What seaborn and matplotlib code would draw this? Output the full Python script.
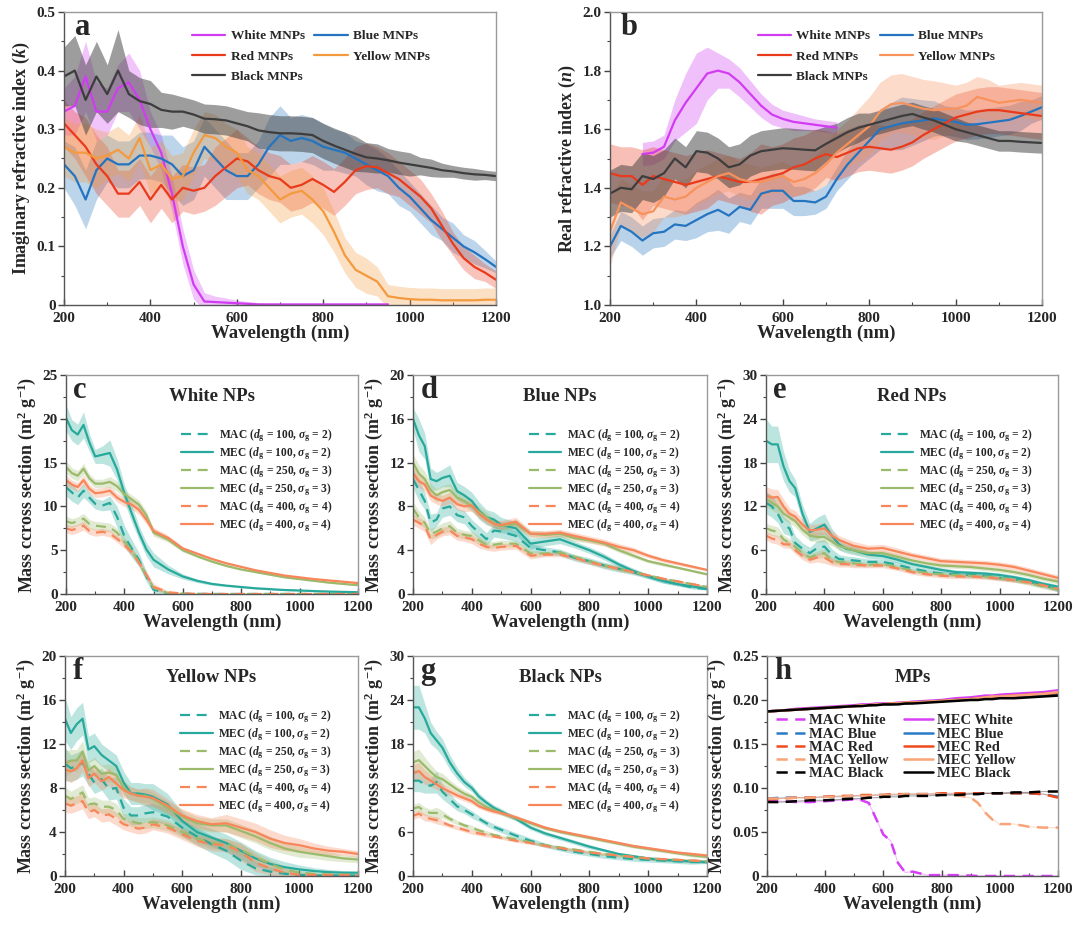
import numpy as np
import pandas as pd
import matplotlib
matplotlib.use("Agg")
import matplotlib.pyplot as plt
import seaborn as sns
from matplotlib.ticker import MultipleLocator, FuncFormatter

nan = np.nan

# ---------------- wavelength grids ----------------
WL_AB = list(range(200, 1201, 25))
WL_NP = [200, 220, 240, 260, 280, 300, 325, 350, 375, 400, 425, 450, 475, 500,
         550, 600, 650, 700, 750, 800, 850, 900, 950, 1000, 1050, 1100, 1150, 1200]
WL_H = [200, 250, 300, 350, 400, 450, 500, 525, 550, 575, 600, 625, 650, 675, 700,
        750, 800, 850, 900, 925, 950, 975, 1000, 1050, 1100, 1150, 1200]

# ---------------- panel a : imaginary index k ----------------
A_WHITE = [0.33, 0.34, 0.39, 0.33, 0.33, 0.37, 0.38, 0.35, 0.30, 0.26, 0.19, 0.10, 0.035, 0.006, 0.005,
           0.004, 0.003, 0.002, 0.001, 0.001, 0.001, 0.001, 0.001, 0.001, 0.001, 0.001, 0.001, 0.001,
           0.001, 0.001, 0.001, nan, nan, nan, nan, nan, nan, nan, nan, nan, nan]
A_WHITE_E = [0.04, 0.05, 0.06, 0.05, 0.04, 0.04, 0.05, 0.05, 0.03, 0.03, 0.03, 0.03, 0.025, 0.015, 0.01,
             0.008, 0.005, 0.004, 0.003, 0.002, 0.002, 0.001, 0.001, 0.001, 0.001, 0.001, 0.001, 0.001,
             0.001, 0.001, 0.001, nan, nan, nan, nan, nan, nan, nan, nan, nan, nan]
A_BLUE = [0.24, 0.22, 0.18, 0.23, 0.25, 0.24, 0.24, 0.255, 0.255, 0.25, 0.24, 0.22, 0.23, 0.27, 0.25,
          0.23, 0.22, 0.22, 0.24, 0.27, 0.29, 0.28, 0.285, 0.28, 0.27, 0.265, 0.26, 0.25, 0.24, 0.23,
          0.22, 0.20, 0.185, 0.165, 0.145, 0.13, 0.115, 0.10, 0.09, 0.078, 0.065]
A_BLUE_E = [0.04, 0.05, 0.05, 0.05, 0.04, 0.04, 0.04, 0.04, 0.04, 0.04, 0.05, 0.05, 0.05, 0.05, 0.05,
            0.05, 0.04, 0.04, 0.04, 0.05, 0.05, 0.04, 0.04, 0.04, 0.04, 0.035, 0.035, 0.03, 0.035, 0.035,
            0.03, 0.03, 0.025, 0.025, 0.025, 0.02, 0.025, 0.02, 0.02, 0.015, 0.01]
A_RED = [0.31, 0.29, 0.27, 0.24, 0.22, 0.19, 0.19, 0.21, 0.18, 0.205, 0.18, 0.20, 0.195, 0.20, 0.22,
         0.235, 0.25, 0.245, 0.23, 0.22, 0.215, 0.20, 0.205, 0.215, 0.205, 0.193, 0.21, 0.23, 0.237,
         0.235, 0.225, 0.215, 0.20, 0.185, 0.165, 0.135, 0.105, 0.08, 0.065, 0.055, 0.043]
A_RED_E = [0.04, 0.04, 0.05, 0.05, 0.05, 0.04, 0.04, 0.04, 0.04, 0.04, 0.04, 0.04, 0.04, 0.04, 0.05,
           0.05, 0.05, 0.04, 0.04, 0.04, 0.04, 0.04, 0.04, 0.04, 0.04, 0.04, 0.04, 0.04, 0.04, 0.035,
           0.035, 0.03, 0.03, 0.03, 0.025, 0.025, 0.02, 0.02, 0.02, 0.015, 0.015]
A_YELLOW = [0.27, 0.26, 0.26, 0.25, 0.255, 0.265, 0.25, 0.285, 0.23, 0.24, 0.215, 0.22, 0.26, 0.29,
            0.285, 0.27, 0.26, 0.23, 0.22, 0.20, 0.18, 0.19, 0.195, 0.18, 0.16, 0.125, 0.085, 0.06,
            0.05, 0.04, 0.015, 0.012, 0.01, 0.009, 0.009, 0.008, 0.008, 0.008, 0.008, 0.009, 0.009]
A_YELLOW_E = [0.05, 0.05, 0.05, 0.05, 0.04, 0.04, 0.04, 0.04, 0.04, 0.04, 0.04, 0.04, 0.04, 0.04, 0.04,
              0.04, 0.04, 0.04, 0.04, 0.04, 0.04, 0.04, 0.04, 0.04, 0.04, 0.035, 0.03, 0.03, 0.03, 0.025,
              0.02, 0.02, 0.02, 0.02, 0.02, 0.02, 0.02, 0.02, 0.02, 0.02, 0.02]
A_BLACK = [0.39, 0.40, 0.35, 0.39, 0.36, 0.40, 0.36, 0.348, 0.343, 0.333, 0.33, 0.33, 0.325, 0.318,
           0.317, 0.315, 0.31, 0.305, 0.298, 0.295, 0.293, 0.293, 0.292, 0.29, 0.28, 0.272, 0.265,
           0.258, 0.252, 0.25, 0.247, 0.243, 0.24, 0.237, 0.234, 0.23, 0.228, 0.225, 0.223, 0.222, 0.22]
A_BLACK_E = [0.05, 0.06, 0.06, 0.06, 0.05, 0.07, 0.04, 0.04, 0.04, 0.03, 0.03, 0.025, 0.025, 0.025,
             0.025, 0.025, 0.025, 0.025, 0.03, 0.03, 0.03, 0.03, 0.03, 0.03, 0.03, 0.03, 0.03, 0.03,
             0.025, 0.025, 0.02, 0.02, 0.02, 0.015, 0.015, 0.012, 0.01, 0.01, 0.01, 0.008, 0.008]

# ---------------- panel b : real index n ----------------
B_WHITE = [nan, nan, nan, 1.515, 1.52, 1.54, 1.63, 1.69, 1.74, 1.79, 1.80, 1.79, 1.76, 1.72, 1.68,
           1.65, 1.635, 1.625, 1.62, 1.615, 1.61, 1.605, nan, nan, nan, nan, nan, nan, nan, nan, nan,
           nan, nan, nan, nan, nan, nan, nan, nan, nan, nan]
B_WHITE_E = [nan, nan, nan, 0.04, 0.04, 0.04, 0.07, 0.10, 0.12, 0.09, 0.06, 0.05, 0.05, 0.045, 0.04,
             0.035, 0.03, 0.03, 0.025, 0.02, 0.02, 0.02, nan, nan, nan, nan, nan, nan, nan, nan, nan,
             nan, nan, nan, nan, nan, nan, nan, nan, nan, nan]
B_BLUE = [1.20, 1.27, 1.25, 1.22, 1.245, 1.25, 1.275, 1.27, 1.29, 1.31, 1.325, 1.305, 1.335, 1.325,
          1.38, 1.39, 1.39, 1.355, 1.355, 1.35, 1.37, 1.43, 1.48, 1.52, 1.56, 1.60, 1.61, 1.62, 1.625,
          1.63, 1.637, 1.63, 1.625, 1.615, 1.617, 1.622, 1.627, 1.632, 1.645, 1.66, 1.675]
B_BLUE_E = [0.04, 0.05, 0.05, 0.05, 0.05, 0.05, 0.05, 0.05, 0.06, 0.06, 0.07, 0.06, 0.05, 0.05, 0.05,
            0.06, 0.06, 0.05, 0.05, 0.04, 0.04, 0.04, 0.05, 0.05, 0.06, 0.07, 0.08, 0.09, 0.08, 0.07,
            0.06, 0.05, 0.05, 0.05, 0.05, 0.05, 0.05, 0.05, 0.05, 0.04, 0.04]
B_RED = [1.45, 1.44, 1.44, 1.41, 1.44, 1.43, 1.42, 1.41, 1.42, 1.43, 1.44, 1.43, 1.42, 1.42, 1.43,
         1.44, 1.45, 1.47, 1.48, 1.50, 1.515, 1.505, 1.52, 1.535, 1.54, 1.535, 1.53, 1.54, 1.555, 1.58,
         1.60, 1.62, 1.64, 1.65, 1.66, 1.665, 1.665, 1.66, 1.655, 1.65, 1.645]
B_RED_E = [0.10, 0.10, 0.10, 0.12, 0.10, 0.10, 0.10, 0.10, 0.10, 0.10, 0.08, 0.08, 0.08, 0.10, 0.12,
           0.10, 0.10, 0.10, 0.10, 0.10, 0.08, 0.08, 0.08, 0.08, 0.08, 0.08, 0.08, 0.08, 0.08, 0.08,
           0.08, 0.08, 0.08, 0.08, 0.08, 0.08, 0.08, 0.08, 0.08, 0.08, 0.08]
B_YELLOW = [1.25, 1.35, 1.33, 1.31, 1.32, 1.37, 1.36, 1.37, 1.40, 1.42, 1.44, 1.45, 1.43, 1.42, 1.42,
            1.43, 1.44, 1.42, 1.43, 1.45, 1.48, 1.52, 1.55, 1.58, 1.61, 1.66, 1.685, 1.69, 1.68, 1.67,
            1.665, 1.668, 1.67, 1.68, 1.71, 1.70, 1.69, 1.695, 1.70, 1.695, 1.69]
B_YELLOW_E = [0.12, 0.08, 0.08, 0.08, 0.07, 0.07, 0.06, 0.06, 0.06, 0.06, 0.06, 0.06, 0.06, 0.06, 0.05,
              0.05, 0.05, 0.05, 0.05, 0.06, 0.07, 0.08, 0.08, 0.09, 0.10, 0.10, 0.10, 0.10, 0.10, 0.10,
              0.10, 0.09, 0.08, 0.08, 0.07, 0.07, 0.06, 0.06, 0.06, 0.06, 0.06]
B_BLACK = [1.38, 1.40, 1.395, 1.44, 1.43, 1.45, 1.50, 1.47, 1.525, 1.52, 1.50, 1.47, 1.48, 1.51, 1.525,
           1.53, 1.535, 1.533, 1.53, 1.528, 1.55, 1.57, 1.59, 1.605, 1.615, 1.625, 1.635, 1.645, 1.652,
           1.64, 1.63, 1.615, 1.60, 1.59, 1.58, 1.57, 1.56, 1.56, 1.557, 1.555, 1.553]
B_BLACK_E = [0.08, 0.08, 0.08, 0.08, 0.08, 0.08, 0.07, 0.07, 0.07, 0.07, 0.07, 0.07, 0.07, 0.07, 0.07,
             0.07, 0.07, 0.07, 0.07, 0.07, 0.06, 0.05, 0.05, 0.05, 0.04, 0.04, 0.04, 0.04, 0.04, 0.04,
             0.04, 0.04, 0.04, 0.035, 0.035, 0.035, 0.035, 0.035, 0.035, 0.035, 0.035]

# ---------------- panel c : White NPs ----------------
C_MAC100 = [12.2, 11.6, 11.0, 11.8, 11.0, 10.3, 10.1, 10.4, 8.8, 6.6, 5.2, 3.9, 2.0, 0.5, 0.05, 0.02, 0.01, 0, 0, 0, 0, 0, 0, 0, 0, 0, 0, 0]
C_MAC100_E = [1.0, 1.0, 0.8, 0.8, 0.6, 0.6, 0.6, 0.8, 1.2, 1.2, 1.0, 0.8, 0.6, 0.4, 0.1, 0.05, 0.02, 0, 0, 0, 0, 0, 0, 0, 0, 0, 0, 0]
C_MEC100 = [20.1, 18.7, 18.2, 19.3, 17.3, 15.7, 15.9, 16.1, 14.2, 11.5, 9.2, 7.0, 5.1, 3.9, 2.8, 2.0, 1.5, 1.15, 0.95, 0.8, 0.65, 0.55, 0.45, 0.4, 0.33, 0.28, 0.24, 0.2]
C_MEC100_E = [1.5, 1.2, 1.2, 1.5, 1.0, 0.8, 1.0, 1.5, 1.2, 1.0, 1.0, 0.8, 0.8, 0.8, 0.5, 0.3, 0.2, 0.15, 0.1, 0.1, 0.08, 0.08, 0.06, 0.05, 0.05, 0.05, 0.05, 0.05]
C_MAC250 = [8.3, 8.1, 8.3, 8.6, 8.0, 7.8, 7.7, 7.6, 7.0, 6.0, 5.0, 3.6, 2.1, 0.7, 0.1, 0.03, 0.01, 0, 0, 0, 0, 0, 0, 0, 0, 0, 0, 0]
C_MAC250_E = [0.6, 0.5, 0.5, 0.6, 0.5, 0.5, 0.5, 0.5, 0.5, 0.5, 0.5, 0.4, 0.3, 0.2, 0.05, 0.02, 0.01, 0, 0, 0, 0, 0, 0, 0, 0, 0, 0, 0]
C_MEC250 = [14.5, 13.8, 13.5, 14.3, 13.2, 12.6, 12.6, 12.8, 12.3, 11.4, 10.8, 10.2, 9.0, 7.0, 6.2, 5.0, 4.3, 3.7, 3.2, 2.8, 2.5, 2.2, 1.9, 1.7, 1.5, 1.3, 1.15, 1.0]
C_MEC250_E = [0.7, 0.6, 0.6, 0.6, 0.5, 0.5, 0.5, 0.6, 0.6, 0.5, 0.5, 0.5, 0.5, 0.4, 0.3, 0.2, 0.15, 0.1, 0.1, 0.1, 0.08, 0.08, 0.06, 0.05, 0.05, 0.05, 0.05, 0.05]
C_MAC400 = [7.5, 7.3, 7.5, 7.8, 7.2, 7.0, 7.1, 6.9, 6.3, 5.6, 4.8, 3.6, 2.2, 0.8, 0.2, 0.06, 0.02, 0, 0, 0, 0, 0, 0, 0, 0, 0, 0, 0]
C_MAC400_E = [0.5, 0.5, 0.5, 0.5, 0.4, 0.4, 0.4, 0.4, 0.4, 0.4, 0.4, 0.4, 0.4, 0.4, 0.15, 0.05, 0.02, 0, 0, 0, 0, 0, 0, 0, 0, 0, 0, 0]
C_MEC400 = [13.0, 12.5, 12.2, 13.0, 12.0, 11.5, 11.6, 11.8, 11.0, 10.5, 10.2, 9.6, 8.5, 7.2, 6.4, 5.2, 4.6, 4.0, 3.5, 3.1, 2.7, 2.4, 2.1, 1.9, 1.7, 1.55, 1.4, 1.25]
C_MEC400_E = [0.6, 0.5, 0.5, 0.6, 0.5, 0.5, 0.5, 0.5, 0.5, 0.5, 0.5, 0.5, 0.5, 0.4, 0.3, 0.2, 0.15, 0.1, 0.1, 0.08, 0.08, 0.06, 0.06, 0.05, 0.05, 0.05, 0.05, 0.05]

# ---------------- panel d : Blue NPs ----------------
D_MAC100 = [10.5, 9.5, 8.5, 6.5, 6.8, 7.8, 8.0, 7.2, 7.0, 6.2, 5.6, 5.0, 5.8, 5.7, 5.3, 4.2, 4.0, 3.8, 3.3, 3.0, 2.6, 2.3, 2.0, 1.6, 1.2, 0.9, 0.6, 0.45]
D_MAC100_E = [0.8, 1.0, 0.8, 0.8, 0.6, 0.8, 0.8, 0.6, 0.6, 0.6, 0.6, 0.6, 0.6, 0.6, 0.5, 0.4, 0.3, 0.3, 0.3, 0.3, 0.3, 0.3, 0.25, 0.2, 0.2, 0.15, 0.15, 0.1]
D_MEC100 = [16.0, 14.5, 13.5, 10.5, 10.3, 10.6, 10.8, 9.4, 9.0, 8.5, 7.6, 7.0, 6.8, 6.3, 6.0, 4.6, 4.8, 5.0, 4.5, 4.0, 3.4, 2.7, 2.1, 1.6, 1.2, 0.9, 0.7, 0.5]
D_MEC100_E = [1.0, 1.5, 1.2, 1.0, 0.8, 0.8, 1.0, 0.8, 0.8, 0.8, 0.8, 0.7, 0.7, 0.7, 0.6, 0.5, 0.4, 0.4, 0.3, 0.3, 0.3, 0.25, 0.25, 0.2, 0.2, 0.15, 0.15, 0.1]
D_MAC250 = [7.8, 7.0, 6.5, 5.5, 5.7, 6.0, 6.2, 5.6, 5.4, 5.3, 4.9, 4.5, 4.5, 4.6, 4.6, 3.7, 3.7, 3.8, 3.4, 3.0, 2.6, 2.3, 2.0, 1.7, 1.4, 1.15, 0.9, 0.65]
D_MAC250_E = [0.6, 0.6, 0.5, 0.5, 0.5, 0.5, 0.5, 0.4, 0.4, 0.4, 0.4, 0.3, 0.3, 0.3, 0.3, 0.3, 0.2, 0.2, 0.2, 0.2, 0.2, 0.2, 0.15, 0.15, 0.1, 0.1, 0.1, 0.1]
D_MEC250 = [12.0, 11.0, 10.5, 9.5, 9.0, 9.3, 9.5, 8.8, 8.5, 8.0, 7.5, 7.0, 6.5, 6.2, 6.4, 5.5, 5.4, 5.5, 5.1, 4.9, 4.6, 4.0, 3.5, 3.0, 2.7, 2.4, 2.1, 1.8]
D_MEC250_E = [0.8, 0.8, 0.7, 0.6, 0.6, 0.6, 0.6, 0.6, 0.5, 0.5, 0.5, 0.5, 0.4, 0.4, 0.4, 0.3, 0.3, 0.3, 0.3, 0.25, 0.2, 0.2, 0.2, 0.15, 0.15, 0.1, 0.1, 0.1]
D_MAC400 = [6.8, 6.5, 6.2, 5.0, 5.4, 5.7, 5.8, 5.3, 5.2, 5.0, 4.6, 4.3, 4.2, 4.3, 4.4, 3.5, 3.6, 3.6, 3.3, 2.9, 2.6, 2.3, 2.0, 1.7, 1.4, 1.15, 0.9, 0.65]
D_MAC400_E = [0.5, 0.5, 0.5, 0.5, 0.4, 0.4, 0.4, 0.4, 0.4, 0.4, 0.4, 0.3, 0.3, 0.3, 0.3, 0.3, 0.2, 0.2, 0.2, 0.2, 0.2, 0.2, 0.15, 0.15, 0.1, 0.1, 0.1, 0.1]
D_MEC400 = [11.0, 10.3, 10.0, 9.0, 8.7, 8.5, 8.8, 8.2, 8.0, 8.1, 7.3, 6.8, 6.4, 6.3, 6.6, 5.5, 5.5, 5.6, 5.3, 5.0, 4.7, 4.3, 4.0, 3.5, 3.1, 2.8, 2.5, 2.2]
D_MEC400_E = [0.6, 0.6, 0.6, 0.5, 0.5, 0.5, 0.5, 0.5, 0.5, 0.5, 0.4, 0.4, 0.4, 0.4, 0.4, 0.3, 0.3, 0.3, 0.3, 0.3, 0.3, 0.3, 0.25, 0.2, 0.2, 0.15, 0.15, 0.1]

# ---------------- panel e : Red NPs ----------------
E_MAC100 = [12.5, 12.0, 11.0, 9.5, 9.0, 7.0, 6.2, 5.6, 6.3, 6.5, 5.4, 4.8, 4.7, 4.6, 4.4, 4.4, 4.0, 3.5, 3.1, 2.8, 2.7, 2.6, 2.5, 2.2, 2.0, 1.7, 1.2, 0.6]
E_MAC100_E = [1.5, 1.5, 1.2, 1.2, 1.0, 1.0, 0.8, 0.8, 1.0, 1.0, 0.8, 0.6, 0.5, 0.5, 0.4, 0.4, 0.4, 0.3, 0.3, 0.3, 0.3, 0.3, 0.3, 0.3, 0.3, 0.3, 0.3, 0.3]
E_MEC100 = [21.0, 20.5, 20.5, 17.5, 15.5, 14.5, 11.0, 8.5, 9.0, 9.5, 8.0, 6.8, 6.2, 6.0, 5.4, 5.2, 4.7, 4.1, 3.7, 3.3, 3.0, 2.9, 2.8, 2.6, 2.3, 1.9, 1.4, 1.0]
E_MEC100_E = [3.0, 2.5, 2.5, 2.0, 1.5, 1.2, 1.2, 1.2, 1.5, 1.5, 1.0, 0.8, 0.6, 0.6, 0.5, 0.4, 0.4, 0.3, 0.3, 0.3, 0.3, 0.3, 0.3, 0.3, 0.3, 0.3, 0.3, 0.3]
E_MAC250 = [9.0, 8.7, 8.5, 7.5, 7.0, 6.5, 5.6, 5.0, 5.4, 5.6, 4.6, 4.4, 4.3, 4.2, 4.0, 4.1, 3.7, 3.2, 2.9, 2.7, 2.6, 2.5, 2.4, 2.2, 1.9, 1.5, 1.0, 0.6]
E_MAC250_E = [0.7, 0.7, 0.7, 0.6, 0.6, 0.6, 0.5, 0.5, 0.5, 0.6, 0.5, 0.4, 0.4, 0.4, 0.3, 0.3, 0.3, 0.3, 0.3, 0.3, 0.3, 0.3, 0.3, 0.3, 0.3, 0.3, 0.3, 0.3]
E_MEC250 = [13.0, 12.5, 12.0, 11.0, 10.5, 10.0, 8.8, 8.0, 7.8, 7.8, 7.2, 6.6, 6.3, 6.0, 5.6, 5.6, 5.1, 4.6, 4.2, 3.9, 3.8, 3.7, 3.5, 3.3, 3.0, 2.6, 2.1, 1.7]
E_MEC250_E = [1.0, 1.0, 1.0, 0.8, 0.8, 0.8, 0.7, 0.7, 0.7, 0.7, 0.6, 0.5, 0.5, 0.5, 0.4, 0.4, 0.4, 0.3, 0.3, 0.3, 0.3, 0.3, 0.3, 0.3, 0.3, 0.3, 0.3, 0.3]
E_MAC400 = [8.0, 7.6, 7.4, 6.8, 6.8, 6.0, 5.2, 4.7, 5.0, 5.0, 4.4, 4.1, 4.1, 4.0, 3.9, 3.9, 3.5, 3.0, 2.7, 2.5, 2.4, 2.4, 2.3, 2.1, 1.9, 1.6, 1.2, 0.7]
E_MAC400_E = [0.6, 0.6, 0.6, 0.5, 0.5, 0.5, 0.5, 0.5, 0.6, 0.8, 0.5, 0.4, 0.4, 0.4, 0.3, 0.3, 0.3, 0.3, 0.3, 0.3, 0.3, 0.3, 0.3, 0.3, 0.3, 0.3, 0.3, 0.3]
E_MEC400 = [13.5, 13.2, 13.3, 12.0, 11.0, 10.6, 9.5, 8.7, 8.8, 9.0, 8.0, 7.4, 7.0, 6.6, 6.2, 6.3, 5.8, 5.3, 4.9, 4.5, 4.4, 4.3, 4.2, 4.0, 3.7, 3.2, 2.7, 2.2]
E_MEC400_E = [1.2, 1.2, 1.0, 1.0, 0.8, 0.8, 0.8, 0.8, 0.8, 0.8, 0.7, 0.6, 0.6, 0.6, 0.5, 0.5, 0.5, 0.4, 0.4, 0.4, 0.4, 0.4, 0.4, 0.4, 0.4, 0.4, 0.4, 0.4]

# ---------------- panel f : Yellow NPs ----------------
F_MAC100 = [10.2, 9.8, 10.0, 10.3, 9.3, 8.5, 8.8, 7.9, 8.0, 6.2, 5.5, 5.5, 5.7, 5.8, 5.4, 4.4, 3.6, 2.9, 2.3, 1.4, 0.7, 0.4, 0.2, 0.1, 0.05, 0.05, 0.05, 0.05]
F_MAC100_E = [1.5, 1.2, 1.2, 1.2, 1.0, 1.0, 1.0, 1.0, 1.0, 0.8, 0.8, 0.8, 0.8, 0.8, 0.8, 0.8, 0.8, 0.8, 0.8, 0.8, 0.6, 0.4, 0.2, 0.1, 0.05, 0.05, 0.05, 0.05]
F_MEC100 = [14.3, 13.0, 13.8, 14.3, 11.5, 11.8, 11.0, 10.5, 10.0, 8.5, 7.5, 7.5, 7.4, 7.2, 6.5, 5.0, 4.0, 3.5, 3.0, 2.3, 1.6, 1.1, 0.8, 0.6, 0.45, 0.35, 0.3, 0.3]
F_MEC100_E = [2.0, 1.5, 1.5, 1.5, 1.2, 1.2, 1.0, 1.0, 1.0, 1.0, 1.0, 1.0, 1.0, 1.2, 1.0, 0.8, 0.8, 0.8, 0.8, 0.8, 0.7, 0.6, 0.5, 0.4, 0.3, 0.25, 0.2, 0.1]
F_MAC250 = [7.3, 7.0, 7.3, 7.6, 6.5, 6.6, 6.3, 6.3, 6.0, 5.2, 5.0, 4.8, 4.8, 4.9, 4.6, 4.0, 3.4, 3.0, 2.9, 2.4, 1.7, 1.1, 0.6, 0.3, 0.2, 0.15, 0.1, 0.1]
F_MAC250_E = [0.8, 0.7, 0.7, 0.7, 0.6, 0.6, 0.6, 0.6, 0.6, 0.5, 0.5, 0.5, 0.5, 0.5, 0.5, 0.5, 0.5, 0.5, 0.5, 0.5, 0.5, 0.4, 0.3, 0.2, 0.1, 0.1, 0.1, 0.1]
F_MEC250 = [10.2, 10.5, 10.5, 11.3, 9.6, 10.0, 9.3, 9.4, 9.2, 8.0, 7.5, 7.3, 7.3, 7.0, 6.2, 5.4, 4.8, 4.6, 4.6, 4.1, 3.6, 3.0, 2.5, 2.2, 2.0, 1.8, 1.6, 1.5]
F_MEC250_E = [1.2, 1.0, 1.0, 1.0, 0.8, 0.8, 0.8, 0.8, 0.8, 0.7, 0.6, 0.6, 0.6, 0.6, 0.6, 0.6, 0.6, 0.6, 0.6, 0.6, 0.6, 0.6, 0.5, 0.5, 0.4, 0.4, 0.3, 0.3]
F_MAC400 = [6.6, 6.4, 6.6, 6.8, 5.8, 6.0, 5.5, 5.6, 5.2, 4.7, 4.5, 4.3, 4.4, 4.7, 4.4, 3.8, 3.2, 2.9, 2.8, 2.2, 1.2, 0.7, 0.3, 0.1, 0.1, 0.1, 0.1, 0.1]
F_MAC400_E = [0.8, 0.7, 0.7, 0.7, 0.6, 0.6, 0.6, 0.6, 0.6, 0.5, 0.5, 0.5, 0.5, 0.5, 0.5, 0.5, 0.5, 0.6, 0.6, 0.8, 0.8, 0.6, 0.4, 0.2, 0.1, 0.1, 0.1, 0.1]
F_MEC400 = [9.7, 9.5, 9.8, 10.5, 8.9, 9.3, 8.6, 9.0, 8.4, 7.8, 7.5, 7.3, 7.2, 7.1, 6.4, 5.5, 5.0, 4.7, 4.8, 4.4, 4.0, 3.4, 3.0, 2.8, 2.5, 2.3, 2.2, 2.0]
F_MEC400_E = [1.0, 1.0, 1.0, 1.0, 0.8, 0.8, 0.8, 0.8, 0.8, 0.7, 0.6, 0.6, 0.8, 0.8, 0.6, 0.6, 0.6, 0.6, 0.8, 0.8, 0.8, 0.8, 0.7, 0.6, 0.5, 0.4, 0.3, 0.3]

# ---------------- panel g : Black NPs ----------------
G_MAC100 = [13.0, 13.0, 12.5, 12.3, 12.8, 11.5, 10.5, 9.5, 9.0, 8.4, 7.8, 7.2, 6.7, 6.3, 5.5, 4.8, 4.2, 3.7, 3.3, 3.0, 2.7, 2.5, 2.3, 2.2, 2.1, 2.0, 1.9, 1.9]
G_MAC100_E = [1.5, 1.5, 1.2, 1.0, 1.5, 1.0, 0.8, 0.6, 0.5, 0.5, 0.4, 0.4, 0.4, 0.4, 0.4, 0.4, 0.3, 0.3, 0.3, 0.3, 0.3, 0.3, 0.3, 0.3, 0.3, 0.3, 0.3, 0.2]
G_MEC100 = [23.0, 23.0, 21.5, 19.5, 18.5, 17.5, 15.5, 14.0, 12.8, 12.0, 10.8, 10.0, 9.3, 8.8, 7.8, 6.6, 5.8, 5.2, 4.6, 4.0, 3.5, 3.0, 2.7, 2.4, 2.2, 2.1, 2.0, 1.9]
G_MEC100_E = [3.0, 3.0, 2.0, 1.5, 1.2, 1.2, 1.0, 0.8, 0.6, 0.5, 0.5, 0.4, 0.4, 0.4, 0.3, 0.3, 0.3, 0.3, 0.3, 0.3, 0.2, 0.2, 0.2, 0.2, 0.2, 0.2, 0.2, 0.2]
G_MAC250 = [9.2, 9.4, 8.8, 8.6, 8.6, 8.4, 7.8, 7.3, 6.9, 6.6, 6.2, 5.9, 5.6, 5.4, 5.0, 4.6, 4.2, 3.9, 3.6, 3.3, 3.0, 2.8, 2.6, 2.4, 2.3, 2.2, 2.1, 2.0]
G_MAC250_E = [0.6, 0.6, 0.6, 0.5, 0.8, 0.5, 0.4, 0.3, 0.3, 0.3, 0.3, 0.3, 0.2, 0.2, 0.2, 0.2, 0.2, 0.2, 0.2, 0.2, 0.2, 0.2, 0.2, 0.2, 0.2, 0.2, 0.2, 0.2]
G_MEC250 = [15.5, 15.8, 15.0, 14.2, 13.5, 13.2, 12.5, 11.8, 11.2, 10.8, 10.0, 9.4, 9.0, 8.6, 7.9, 7.2, 6.5, 6.0, 5.6, 5.2, 4.8, 4.4, 4.0, 3.7, 3.4, 3.1, 2.8, 2.6]
G_MEC250_E = [1.5, 1.5, 1.2, 1.0, 0.8, 0.8, 0.6, 0.5, 0.5, 0.4, 0.4, 0.3, 0.3, 0.3, 0.3, 0.3, 0.2, 0.2, 0.2, 0.2, 0.2, 0.2, 0.2, 0.2, 0.2, 0.2, 0.2, 0.2]
G_MAC400 = [8.2, 8.5, 8.0, 7.8, 7.6, 7.3, 6.9, 6.6, 6.3, 6.0, 5.8, 5.6, 5.4, 5.2, 4.8, 4.5, 4.1, 3.8, 3.5, 3.2, 3.0, 2.8, 2.6, 2.4, 2.3, 2.2, 2.1, 2.0]
G_MAC400_E = [0.5, 0.5, 0.5, 0.4, 0.5, 0.4, 0.3, 0.3, 0.3, 0.3, 0.3, 0.3, 0.2, 0.2, 0.2, 0.2, 0.2, 0.2, 0.2, 0.2, 0.2, 0.2, 0.2, 0.2, 0.2, 0.2, 0.2, 0.2]
G_MEC400 = [14.0, 14.3, 13.5, 13.0, 12.5, 12.0, 11.5, 11.0, 10.6, 10.2, 9.5, 9.1, 8.8, 8.6, 8.0, 7.3, 6.6, 6.1, 5.7, 5.3, 4.9, 4.5, 4.1, 3.8, 3.5, 3.2, 3.0, 2.8]
G_MEC400_E = [1.2, 1.2, 1.0, 0.8, 0.7, 0.6, 0.5, 0.4, 0.4, 0.4, 0.3, 0.3, 0.3, 0.3, 0.3, 0.2, 0.2, 0.2, 0.2, 0.2, 0.2, 0.2, 0.2, 0.2, 0.2, 0.2, 0.2, 0.2]

# ---------------- panel h : MPs ----------------
H_MAC_WHITE = [0.085, 0.085, 0.084, 0.084, 0.085, 0.086, 0.087, 0.086, 0.083, 0.065, 0.047, 0.040, 0.015, 0.004,
               0.005, 0.001, 0.001, 0.001, 0.0005, 0, 0, 0, 0, 0, 0, 0, 0]
H_MAC_BLUE = [0.088, 0.089, 0.089, 0.089, 0.090, 0.090, 0.091, 0.091, 0.091, 0.092, 0.092, 0.092, 0.092, 0.093,
              0.093, 0.093, 0.093, 0.093, 0.094, 0.094, 0.094, 0.094, 0.094, 0.094, 0.094, 0.093, 0.090]
H_MAC_RED = [0.087, 0.088, 0.089, 0.089, 0.090, 0.091, 0.091, 0.092, 0.092, 0.092, 0.092, 0.093, 0.093, 0.093,
             0.093, 0.093, 0.094, 0.094, 0.094, 0.094, 0.094, 0.094, 0.094, 0.094, 0.094, 0.093, 0.089]
H_MAC_YELLOW = [0.088, 0.088, 0.089, 0.089, 0.090, 0.090, 0.091, 0.091, 0.091, 0.092, 0.092, 0.092, 0.092, 0.093,
                0.093, 0.093, 0.093, 0.092, 0.089, 0.083, 0.072, 0.064, 0.059, 0.059, 0.056, 0.055, 0.055]
H_MAC_BLACK = [0.084, 0.084, 0.085, 0.086, 0.086, 0.087, 0.088, 0.088, 0.089, 0.089, 0.090, 0.090, 0.090, 0.091,
               0.091, 0.091, 0.092, 0.092, 0.093, 0.093, 0.094, 0.094, 0.094, 0.095, 0.095, 0.096, 0.096]
H_MEC_WHITE = [0.187, 0.188, 0.190, 0.191, 0.192, 0.193, 0.194, 0.195, 0.195, 0.196, 0.196, 0.196, 0.197, 0.197,
               0.198, 0.199, 0.200, 0.202, 0.203, 0.204, 0.205, 0.205, 0.206, 0.207, 0.208, 0.209, 0.211]
H_MEC_BLUE = [0.187, 0.188, 0.189, 0.190, 0.191, 0.192, 0.193, 0.194, 0.194, 0.195, 0.195, 0.195, 0.196, 0.196,
              0.197, 0.198, 0.199, 0.200, 0.201, 0.202, 0.202, 0.203, 0.203, 0.204, 0.205, 0.205, 0.206]
H_MEC_RED = [0.187, 0.188, 0.189, 0.190, 0.191, 0.192, 0.193, 0.194, 0.194, 0.195, 0.195, 0.196, 0.196, 0.197,
             0.197, 0.198, 0.199, 0.200, 0.201, 0.202, 0.203, 0.203, 0.204, 0.205, 0.206, 0.207, 0.208]
H_MEC_YELLOW = [0.187, 0.188, 0.189, 0.190, 0.191, 0.192, 0.193, 0.194, 0.194, 0.195, 0.195, 0.196, 0.196, 0.197,
                0.197, 0.198, 0.199, 0.200, 0.201, 0.202, 0.203, 0.204, 0.204, 0.205, 0.206, 0.207, 0.209]
H_MEC_BLACK = [0.187, 0.188, 0.189, 0.190, 0.191, 0.192, 0.193, 0.193, 0.194, 0.194, 0.195, 0.195, 0.195, 0.196,
               0.196, 0.197, 0.198, 0.199, 0.200, 0.200, 0.201, 0.201, 0.202, 0.202, 0.203, 0.204, 0.205]

# ---------------- labels ----------------
MNP_NAMES = ["White MNPs", "Blue MNPs", "Red MNPs", "Yellow MNPs", "Black MNPs"]
NP_TITLES = ["White NPs", "Blue NPs", "Red NPs", "Yellow NPs", "Black NPs"]
SIZE_LABELS = [r"($d_{\mathrm{g}}$ = 100, $\sigma_{\mathrm{g}}$ = 2)",
               r"($d_{\mathrm{g}}$ = 250, $\sigma_{\mathrm{g}}$ = 3)",
               r"($d_{\mathrm{g}}$ = 400, $\sigma_{\mathrm{g}}$ = 4)"]
H_NAMES = ["White", "Blue", "Red", "Yellow", "Black"]

# ---------------- style ----------------
sns.set_theme(style="ticks")
plt.rcParams["font.family"] = ["Liberation Serif", "DejaVu Serif"]
plt.rcParams["font.weight"] = "bold"
plt.rcParams["axes.labelweight"] = "bold"
plt.rcParams["mathtext.fontset"] = "custom"
plt.rcParams["mathtext.rm"] = "Liberation Serif:bold"
plt.rcParams["mathtext.it"] = "Liberation Serif:italic:bold"
plt.rcParams["mathtext.bf"] = "Liberation Serif:bold"
plt.rcParams["axes.linewidth"] = 1.0

COL_MNP = ["#d13cf2", "#2474c0", "#ea3a1c", "#f49a3e", "#3d3d3d"]
COL_MNP_B = ["#d13cf2", "#2474c0", "#ea3a1c", "#f7925c", "#3d3d3d"]
COL_SIZE = ["#27a99b", "#9cba6c", "#f7865a"]
COL_H = ["#d63ff5", "#2a7ac6", "#ee4a1c", "#f8a478", "#000000"]

W, H = 1080, 925
fig = plt.figure(figsize=(W / 100, H / 100), dpi=100)


def add_ax(l, t, r, b):
    return fig.add_axes([l / W, 1 - b / H, (r - l) / W, (b - t) / H])


def draw(ax, x, y, e, color, dashed=False, lw=1.6, alpha=0.3, band_color=None):
    df = pd.DataFrame({"wl": np.asarray(x, float), "v": np.asarray(y, float)})
    if e is not None:
        ee = np.asarray(e, float)
        ax.fill_between(df["wl"], df["v"] - ee, df["v"] + ee, color=band_color or color,
                        alpha=alpha, lw=0)
    d = df.dropna()
    ls = (0, (4.5, 3)) if dashed else "-"
    sns.lineplot(data=d, x="wl", y="v", ax=ax, color=color, lw=lw, linestyle=ls,
                 sort=False, errorbar=None, legend=False)
    return ax.lines[-1]


def style(ax, ylim, major, minor, fmt, ylabel, ylab_size=13):
    ax.set_xlim(200, 1200)
    ax.set_ylim(*ylim)
    ax.xaxis.set_major_locator(MultipleLocator(200))
    ax.xaxis.set_minor_locator(MultipleLocator(100))
    ax.yaxis.set_major_locator(MultipleLocator(major))
    ax.yaxis.set_minor_locator(MultipleLocator(minor))
    ax.yaxis.set_major_formatter(FuncFormatter(fmt))
    ax.tick_params(axis="x", which="major", direction="in", length=4, width=1, labelsize=11,
                   pad=5, color="#444")
    ax.tick_params(axis="x", which="minor", direction="in", length=2.2, width=0.8, color="#444")
    ax.tick_params(axis="y", which="major", direction="out", length=4, width=1, labelsize=11,
                   pad=2, color="#444")
    ax.tick_params(axis="y", which="minor", direction="out", length=2.2, width=0.8, color="#444")
    ax.set_xlabel("Wavelength (nm)", fontsize=13.5, fontweight="bold", labelpad=0)
    ax.set_ylabel(ylabel, fontsize=ylab_size, fontweight="bold", labelpad=3)
    for s in ["top", "right"]:
        ax.spines[s].set_color("#9a9a9a")
    for s in ["left", "bottom"]:
        ax.spines[s].set_color("#555555")


def letter(ax, s, x=0.025, y=0.995):
    ax.text(x, y, s, transform=ax.transAxes, ha="left", va="top", fontsize=22, fontweight="bold")


fmt_zero1 = lambda v, p: "0" if abs(v) < 1e-9 else f"{v:.1f}"
fmt1 = lambda v, p: f"{v:.1f}"
fmt0 = lambda v, p: f"{v:.0f}"
fmt_zero2 = lambda v, p: "0" if abs(v) < 1e-9 else f"{v:.2f}"

# ---------------- panel a ----------------
ax = add_ax(64, 12, 496, 305)
a_series = [(A_WHITE, A_WHITE_E), (A_BLUE, A_BLUE_E), (A_RED, A_RED_E),
            (A_YELLOW, A_YELLOW_E), (A_BLACK, A_BLACK_E)]
handles = []
for i, (y, e) in enumerate(a_series):
    alpha = 0.5 if i == 4 else 0.3
    handles.append(draw(ax, WL_AB, y, e, COL_MNP[i], lw=1.6, alpha=alpha))
style(ax, (0, 0.5), 0.1, 0.05, fmt_zero1, r"Imaginary refractive index ($\mathit{k}$)")
order = [0, 2, 4, 1, 3]
LEG_AB = dict(loc="upper left", ncol=2, frameon=False, fontsize=9.6, handlelength=2.5,
              handletextpad=0.4, columnspacing=0.7, labelspacing=0.58, borderaxespad=0.3)
ax.legend([handles[i] for i in order], [MNP_NAMES[i] for i in order],
          bbox_to_anchor=(0.275, 0.97), **LEG_AB)
letter(ax, "a")

# ---------------- panel b ----------------
ax = add_ax(610, 12, 1042, 305)
b_series = [(B_WHITE, B_WHITE_E), (B_BLUE, B_BLUE_E), (B_RED, B_RED_E),
            (B_YELLOW, B_YELLOW_E), (B_BLACK, B_BLACK_E)]
handles = []
for i, (y, e) in enumerate(b_series):
    alpha = 0.5 if i == 4 else 0.32
    handles.append(draw(ax, WL_AB, y, e, COL_MNP_B[i], lw=1.6, alpha=alpha))
style(ax, (1.0, 2.0), 0.2, 0.1, fmt1, r"Real refractive index ($\mathit{n}$)")
ax.legend([handles[i] for i in order], [MNP_NAMES[i] for i in order],
          bbox_to_anchor=(0.32, 0.97), **LEG_AB)
letter(ax, "b")

# ---------------- panels c-g ----------------
NP_DATA = [
    ("c", (66, 375, 358, 594), 25, 5, 2.5,
     [(C_MAC100, C_MAC100_E), (C_MEC100, C_MEC100_E), (C_MAC250, C_MAC250_E),
      (C_MEC250, C_MEC250_E), (C_MAC400, C_MAC400_E), (C_MEC400, C_MEC400_E)]),
    ("d", (413, 375, 707, 594), 20, 4, 2,
     [(D_MAC100, D_MAC100_E), (D_MEC100, D_MEC100_E), (D_MAC250, D_MAC250_E),
      (D_MEC250, D_MEC250_E), (D_MAC400, D_MAC400_E), (D_MEC400, D_MEC400_E)]),
    ("e", (766, 375, 1058, 594), 30, 6, 3,
     [(E_MAC100, E_MAC100_E), (E_MEC100, E_MEC100_E), (E_MAC250, E_MAC250_E),
      (E_MEC250, E_MEC250_E), (E_MAC400, E_MAC400_E), (E_MEC400, E_MEC400_E)]),
    ("f", (65, 656, 358, 876), 20, 4, 2,
     [(F_MAC100, F_MAC100_E), (F_MEC100, F_MEC100_E), (F_MAC250, F_MAC250_E),
      (F_MEC250, F_MEC250_E), (F_MAC400, F_MAC400_E), (F_MEC400, F_MEC400_E)]),
    ("g", (413, 656, 707, 876), 30, 6, 3,
     [(G_MAC100, G_MAC100_E), (G_MEC100, G_MEC100_E), (G_MAC250, G_MAC250_E),
      (G_MEC250, G_MEC250_E), (G_MAC400, G_MAC400_E), (G_MEC400, G_MEC400_E)]),
]
MASS_LABEL = r"Mass ccross section (m$^{2}$ g$^{-1}$)"

for k, (let, box, ymax, major, minor, series) in enumerate(NP_DATA):
    ax = add_ax(*box)
    handles, labels = [], []
    for j, (y, e) in enumerate(series):
        size = j // 2
        dashed = (j % 2 == 0)
        h = draw(ax, WL_NP, y, e, COL_SIZE[size], dashed=dashed, lw=1.6, alpha=0.3)
        handles.append(h)
        labels.append(("MAC " if dashed else "MEC ") + SIZE_LABELS[size])
    style(ax, (0, ymax), major, minor, fmt0, MASS_LABEL, ylab_size=13)
    ax.legend(handles, labels, loc="upper left", bbox_to_anchor=(0.37, 0.795), frameon=False,
              fontsize=8.3, handlelength=2.8, handletextpad=0.5, labelspacing=0.12,
              borderaxespad=0.2)
    ax.text(0.5, 0.9, NP_TITLES[k], transform=ax.transAxes, ha="center", va="center",
            fontsize=13.5, fontweight="bold")
    letter(ax, let)

# ---------------- panel h ----------------
ax = add_ax(767, 656, 1058, 876)
mac = [H_MAC_WHITE, H_MAC_BLUE, H_MAC_RED, H_MAC_YELLOW, H_MAC_BLACK]
mec = [H_MEC_WHITE, H_MEC_BLUE, H_MEC_RED, H_MEC_YELLOW, H_MEC_BLACK]
h_mac, h_mec = [], []
for i, y in enumerate(mac):
    draw(ax, WL_H, y, None, COL_H[i], dashed=False, lw=0.8)
    ax.lines[-1].set_alpha(0.35)
    h_mac.append(draw(ax, WL_H, y, None, COL_H[i], dashed=True, lw=1.8))
for i, y in enumerate(mec):
    h_mec.append(draw(ax, WL_H, y, None, COL_H[i], dashed=False, lw=1.8))
style(ax, (0, 0.25), 0.05, 0.025, fmt_zero2, MASS_LABEL, ylab_size=13)
ax.legend(h_mac + h_mec, ["MAC " + n for n in H_NAMES] + ["MEC " + n for n in H_NAMES],
          loc="upper left", bbox_to_anchor=(0.0, 0.775), ncol=2, frameon=False, fontsize=10.5,
          handlelength=2.0, handletextpad=0.3, columnspacing=1.0, labelspacing=0.0,
          borderaxespad=0.2)
ax.text(0.5, 0.9, "MPs", transform=ax.transAxes, ha="center", va="center",
        fontsize=13.5, fontweight="bold")
letter(ax, "h")

fig.savefig("out.png", dpi=100)
